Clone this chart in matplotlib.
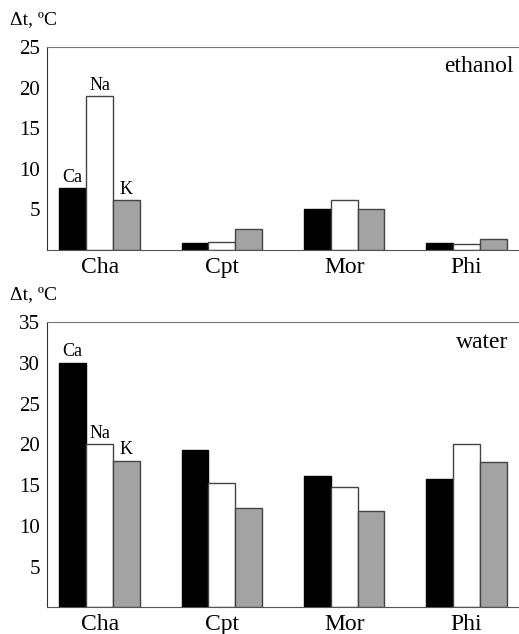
import matplotlib.pyplot as plt
import numpy as np

plt.rcParams['font.family'] = ['Liberation Serif', 'DejaVu Serif']

compounds = ['Cha', 'Cpt', 'Mor', 'Phi']
ions = ['Ca', 'Na', 'K']

ethanol_ca = [7.6, 0.9, 5.1, 0.9]
ethanol_na = [19.0, 1.0, 6.2, 0.7]
ethanol_k = [6.1, 2.6, 5.1, 1.4]

water_ca = [30.0, 19.3, 16.1, 15.8]
water_na = [20.0, 15.3, 14.8, 20.0]
water_k = [18.0, 12.2, 11.8, 17.8]

colors = ['black', 'white', '#a3a3a3']
edges = ['black', '#444444', '#444444']

fig = plt.figure(figsize=(5.19, 6.34), dpi=100)
ax1 = fig.add_axes([0.0906, 0.6057, 0.9094, 0.3202])
ax2 = fig.add_axes([0.0906, 0.0421, 0.9094, 0.4495])

x = np.arange(len(compounds))
w = 0.22


def draw_panel(ax, series, ymax, solvent, sx, sy):
    for i, vals in enumerate(series):
        ax.bar(x + (i - 1) * w, vals, w, color=colors[i], edgecolor=edges[i],
               linewidth=1.0, zorder=2)
    # ion labels above the first group only
    for i, ion in enumerate(ions):
        ax.text(x[0] + (i - 1) * w, series[i][0] + ymax * 0.01, ion,
                ha='center', va='bottom', fontsize=13)
    ax.set_xlim(-0.43, 3.43)
    ax.set_ylim(0, ymax)
    ax.set_yticks(np.arange(5, ymax + 1, 5))
    ax.set_xticks(x)
    ax.set_xticklabels(compounds, fontsize=17)
    ax.tick_params(axis='y', length=0, labelsize=15, pad=5)
    ax.tick_params(axis='x', length=0, pad=5)
    ax.spines['right'].set_visible(False)
    ax.spines['top'].set_color('#777777')
    ax.spines['bottom'].set_color('#555555')
    ax.spines['left'].set_color('#333333')
    ax.text(sx, sy, solvent, transform=ax.transAxes, ha='right',
            va='top', fontsize=17)
    ax.annotate('Δt, ºC', xy=(0, 1), xycoords='axes fraction',
                xytext=(-27, 13.5), textcoords='offset points',
                ha='left', va='bottom', fontsize=14)


draw_panel(ax1, [ethanol_ca, ethanol_na, ethanol_k], 25, 'ethanol', 0.989, 0.955)
draw_panel(ax2, [water_ca, water_na, water_k], 35, 'water', 0.977, 0.967)

fig.savefig('out.png', dpi=100)
